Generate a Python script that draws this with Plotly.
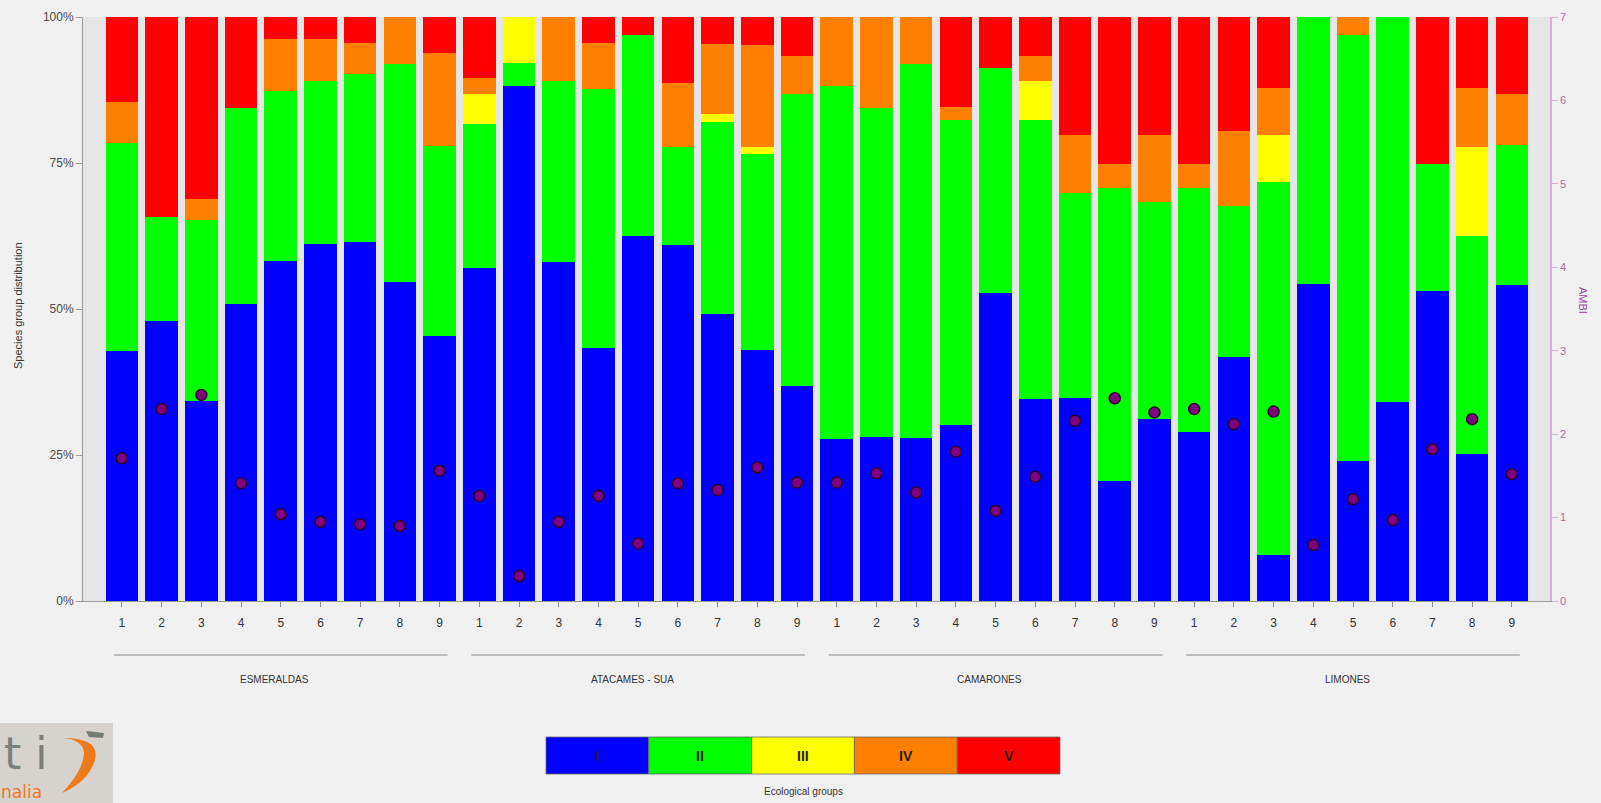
import plotly.graph_objects as go

# ---- data -------------------------------------------------------------
sites = ["ESMERALDAS", "ATACAMES - SUA", "CAMARONES", "LIMONES"]
stations = ["1", "2", "3", "4", "5", "6", "7", "8", "9"]

# share of each ecological group (%) per station, sites in order
group_I = [42.8, 47.9, 34.3, 50.9, 58.3, 61.2, 61.5, 54.7, 45.4,
           57.0, 88.2, 58.1, 43.3, 62.5, 61.0, 49.1, 42.9, 36.8,
           27.7, 28.1, 27.9, 30.2, 52.7, 34.6, 34.8, 20.6, 31.2,
           28.9, 41.7, 7.8, 54.3, 24.0, 34.0, 53.0, 25.2, 54.1]
group_II = [35.6, 17.9, 31.0, 33.6, 29.1, 27.9, 28.8, 37.3, 32.5,
            24.7, 3.9, 30.9, 44.4, 34.4, 16.7, 32.9, 33.6, 50.1,
            60.5, 56.4, 64.1, 52.2, 38.5, 47.8, 35.1, 50.1, 37.2,
            41.8, 25.9, 64.0, 45.7, 72.9, 66.0, 21.8, 37.3, 24.0]
group_III = [0, 0, 0, 0, 0, 0, 0, 0, 0,
             5.2, 7.9, 0, 0, 0, 0, 1.4, 1.2, 0,
             0, 0, 0, 0, 0, 6.6, 0, 0, 0,
             0, 0, 8.0, 0, 0, 0, 0, 15.2, 0]
group_IV = [7.1, 0, 3.5, 0, 8.9, 7.1, 5.2, 8.0, 16.0,
            2.6, 0, 11.0, 7.8, 0, 11.0, 11.9, 17.5, 6.4,
            11.8, 15.5, 8.0, 2.2, 0, 4.4, 9.9, 4.1, 11.4,
            4.1, 12.9, 8.0, 0, 3.1, 0, 0, 10.2, 8.7]
group_V = [14.5, 34.2, 31.2, 15.5, 3.7, 3.8, 4.5, 0, 6.1,
           10.5, 0, 0, 4.5, 3.1, 11.3, 4.7, 4.8, 6.7,
           0, 0, 0, 15.4, 8.8, 6.6, 20.2, 25.2, 20.2,
           25.2, 19.5, 12.2, 0, 0, 0, 25.2, 12.1, 13.2]

# AMBI index per station
ambi = [1.71, 2.30, 2.47, 1.41, 1.04, 0.95, 0.92, 0.90, 1.56,
        1.26, 0.30, 0.95, 1.26, 0.69, 1.41, 1.33, 1.60, 1.42,
        1.42, 1.53, 1.30, 1.79, 1.08, 1.49, 2.16, 2.43, 2.26,
        2.30, 2.12, 2.27, 0.67, 1.22, 0.97, 1.82, 2.18, 1.52]

group_names = ["I", "II", "III", "IV", "V"]
group_colors = ["#0000ff", "#00ff00", "#ffff00", "#ff8000", "#ff0000"]
pct_ticks = [0, 25, 50, 75, 100]
pct_labels = ["0%", "25%", "50%", "75%", "100%"]
ambi_ticks = [0, 1, 2, 3, 4, 5, 6, 7]

# ---- page geometry ----------------------------------------------------
W, H = 1601, 803
ML, MR, MT, MB = 83, 51, 17, 202
PW, PH = W - ML - MR, H - MT - MB
FONT = "Liberation Sans, Arial, sans-serif"


def fx(px):
    """page pixel x -> paper x"""
    return (px - ML) / PW


def fy(py):
    """page pixel y -> paper y"""
    return (H - MB - py) / PH


n_st = len(stations)
xpos = list(range(len(sites) * n_st))
ticktext = stations * len(sites)

fig = go.Figure()

for name, color, vals in zip(group_names, group_colors,
                             [group_I, group_II, group_III, group_IV, group_V]):
    fig.add_trace(go.Bar(
        x=xpos, y=vals, name=name, width=0.82,
        marker=dict(color=color, line=dict(width=0)),
        showlegend=False,
    ))

fig.add_trace(go.Scatter(
    x=xpos, y=ambi, yaxis="y2", mode="markers", name="AMBI",
    marker=dict(size=11, color="#800080", line=dict(color="#2a002a", width=1.5)),
    showlegend=False,
))

shapes = []
annotations = []

# site brackets and names under the station numbers
for k, site in enumerate(sites):
    x0 = k * n_st
    x1 = x0 + n_st - 1
    shapes.append(dict(type="line", xref="x", yref="paper",
                       x0=x0 - 0.2, x1=x1 + 0.2, y0=fy(655), y1=fy(655),
                       line=dict(color="#8a8a8a", width=1)))
    annotations.append(dict(xref="x", yref="paper", x=(x0 + x1) / 2 - 0.15, y=fy(679),
                            text=site, showarrow=False, yanchor="middle",
                            font=dict(size=10, color="#333333", family=FONT)))

# colour key for the ecological groups
box_l, box_r, box_t, box_b = 546, 1060, 737, 774
bw = (box_r - box_l) / len(group_names)
for i, (name, color) in enumerate(zip(group_names, group_colors)):
    shapes.append(dict(type="rect", xref="paper", yref="paper",
                       x0=fx(box_l + i * bw), x1=fx(box_l + (i + 1) * bw),
                       y0=fy(box_b), y1=fy(box_t),
                       fillcolor=color, line=dict(color="#6a6a6a", width=0.8)))
    annotations.append(dict(xref="paper", yref="paper",
                            x=fx(box_l + (i + 0.5) * bw), y=fy((box_t + box_b) / 2),
                            text="<b>" + name + "</b>", showarrow=False,
                            xanchor="center", yanchor="middle",
                            font=dict(size=14, color="#222222", family=FONT)))
annotations.append(dict(xref="paper", yref="paper", x=fx((box_l + box_r) / 2), y=fy(791),
                        text="Ecological groups", showarrow=False,
                        xanchor="center", yanchor="middle",
                        font=dict(size=10, color="#333333", family=FONT)))

# axis titles
annotations.append(dict(xref="paper", yref="paper", x=fx(18), y=fy(306),
                        text="Species group distribution", showarrow=False,
                        textangle=-90, xanchor="center", yanchor="middle",
                        font=dict(size=11, color="#333333", family=FONT)))
annotations.append(dict(xref="paper", yref="paper", x=fx(1583), y=fy(300),
                        text="AMBI", showarrow=False,
                        textangle=90, xanchor="center", yanchor="middle",
                        font=dict(size=11, color="#9a4a9a", family=FONT)))

# institutional logo, bottom left


def path(points):
    d = "M " + " L ".join(f"{fx(px):.5f},{fy(py):.5f}" for px, py in points)
    return d + " Z"


def curve(points):
    # smooth outline through the given points using quadratic segments
    p = [(fx(px), fy(py)) for px, py in points]
    d = f"M {p[0][0]:.5f},{p[0][1]:.5f}"
    for a, b in zip(p[1::2], p[2::2]):
        d += f" Q {a[0]:.5f},{a[1]:.5f} {b[0]:.5f},{b[1]:.5f}"
    return d + " Z"


shapes.append(dict(type="rect", xref="paper", yref="paper",
                   x0=fx(0), x1=fx(113), y0=fy(803), y1=fy(723),
                   fillcolor="#d6d3ce", line=dict(width=0), layer="above"))
shapes.append(dict(type="path", xref="paper", yref="paper", layer="above",
                   path=curve([(64, 738), (100, 738), (95, 760), (88, 782), (62, 793),
                               (84, 770), (84, 752), (82, 740), (64, 738)]),
                   fillcolor="#ef7a1a", line=dict(width=0)))
shapes.append(dict(type="path", xref="paper", yref="paper", layer="above",
                   path=path([(86, 731), (104, 733), (103, 738), (89, 737)]),
                   fillcolor="#757a75", line=dict(width=0)))
annotations.append(dict(xref="paper", yref="paper", x=fx(2), y=fy(753),
                        text="t i", showarrow=False, xanchor="left", yanchor="middle",
                        font=dict(size=44, color="#7b807b", family="DejaVu Sans")))
annotations.append(dict(xref="paper", yref="paper", x=fx(-1), y=fy(792),
                        text="nalia", showarrow=False, xanchor="left", yanchor="middle",
                        font=dict(size=17, color="#ef7a1a", family="DejaVu Sans")))

fig.update_layout(
    width=W, height=H,
    margin=dict(l=ML, r=MR, t=MT, b=MB, autoexpand=False),
    barmode="stack",
    paper_bgcolor="#f0f0f0",
    plot_bgcolor="#e6e6e6",
    font=dict(family=FONT, color="#333333"),
    xaxis=dict(
        range=[-0.98, len(xpos) - 0.04],
        tickmode="array", tickvals=xpos, ticktext=ticktext,
        ticks="outside", ticklen=5, tickcolor="#8a8a8a", ticklabelstandoff=6,
        tickfont=dict(size=12, color="#333333"),
        showline=True, linecolor="#9a9a9a", linewidth=1,
        showgrid=False, zeroline=False, fixedrange=True,
    ),
    yaxis=dict(
        range=[0, 100],
        tickmode="array", tickvals=pct_ticks, ticktext=pct_labels,
        ticks="outside", ticklen=6, tickcolor="#9a9a9a",
        tickfont=dict(size=12, color="#4a4a4a"),
        showline=True, linecolor="#9a9a9a", linewidth=1,
        showgrid=False, zeroline=False,
    ),
    yaxis2=dict(
        range=[0, 7], overlaying="y", side="right",
        tickmode="array", tickvals=ambi_ticks,
        ticks="outside", ticklen=6, tickcolor="#d6b0d6",
        tickfont=dict(size=11, color="#a86ea8"),
        showline=True, linecolor="#d6b0d6", linewidth=1.5,
        showgrid=False, zeroline=False,
    ),
    shapes=shapes,
    annotations=annotations,
)

fig.write_html("out.html")
